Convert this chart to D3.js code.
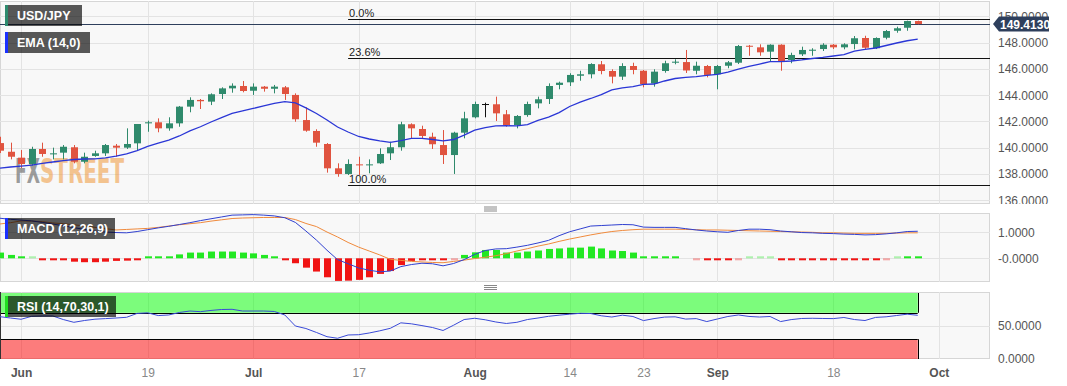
<!DOCTYPE html>
<html>
<head>
<meta charset="utf-8">
<script src="https://cdn.jsdelivr.net/npm/d3@7"></script>
<style>
  body { margin: 0; background: #fff; }
  svg { display: block; font-family: "Liberation Sans", Arial, sans-serif; }
</style>
</head>
<body>
<svg id="chart"></svg>
<script>
var WIDTH = 1067;
var HEIGHT = 386;
var PLOT_W = 990;

// candle index -2 .. 85 (index 0 = Jun 1)
var FIRST_INDEX = -2;

var open = [140.36, 139.70, 139.25, 138.77, 139.91, 139.50, 139.63, 140.04, 138.94, 139.38,
  139.58, 140.16, 140.01, 140.34, 141.86, 141.94, 141.48, 141.86, 143.13, 143.64,
  143.51, 144.09, 144.52, 144.70, 144.34, 144.65, 144.49, 144.60, 144.02, 142.11,
  141.28, 140.29, 138.44, 138.01, 138.74, 138.67, 138.82, 139.58, 140.04, 141.79,
  141.43, 140.84, 140.21, 139.45, 141.15, 142.32, 143.33, 143.31, 142.55, 141.73,
  142.49, 143.38, 143.71, 144.78, 144.98, 145.48, 145.59, 146.35, 145.84, 145.41,
  146.22, 145.86, 144.90, 145.84, 146.47, 146.52, 145.86, 146.22, 145.59, 146.24,
  146.47, 147.76, 147.64, 147.31, 147.84, 146.68, 147.11, 147.38, 147.51, 147.84,
  147.64, 147.89, 148.35, 147.57, 148.37, 148.90, 149.13, 149.64];
var high = [140.84, 140.39, 139.83, 140.08, 140.39, 140.01, 140.21, 140.21, 139.63, 139.78,
  140.29, 140.29, 141.48, 141.81, 142.06, 142.24, 142.32, 143.18, 143.84, 143.71,
  144.14, 144.60, 144.90, 145.08, 144.90, 144.70, 144.78, 144.70, 144.14, 143.08,
  141.41, 140.36, 138.82, 139.12, 139.32, 139.12, 139.96, 140.46, 141.98, 141.86,
  141.68, 141.15, 141.35, 141.22, 142.74, 143.51, 143.43, 143.89, 142.87, 142.49,
  143.51, 143.89, 144.90, 145.03, 145.67, 145.86, 146.43, 146.60, 145.97, 146.43,
  146.47, 145.92, 145.97, 146.62, 146.73, 147.44, 146.55, 146.30, 146.30, 146.60,
  147.82, 147.82, 147.87, 147.87, 147.87, 147.23, 147.69, 147.57, 147.95, 147.89,
  147.95, 148.50, 148.52, 148.40, 148.96, 149.21, 149.67, 149.67];
var low = [139.60, 139.12, 138.46, 138.64, 139.32, 139.12, 139.12, 138.82, 138.82, 139.32,
  139.38, 139.32, 139.91, 139.83, 141.22, 141.18, 141.30, 141.60, 142.70, 142.95,
  143.25, 143.71, 144.19, 144.22, 144.02, 144.27, 144.14, 143.64, 141.98, 141.22,
  140.08, 138.11, 137.80, 137.93, 137.93, 138.06, 138.77, 139.07, 139.78, 140.72,
  140.72, 139.91, 138.77, 138.01, 140.72, 142.24, 142.32, 142.04, 141.60, 141.48,
  142.36, 143.00, 143.33, 144.45, 144.70, 145.10, 145.28, 145.59, 144.90, 145.16,
  145.59, 144.60, 144.65, 145.71, 146.35, 145.69, 145.59, 145.36, 144.45, 146.05,
  146.37, 147.00, 147.00, 146.55, 145.86, 146.43, 146.98, 147.00, 147.36, 147.51,
  147.49, 147.49, 147.49, 147.51, 148.25, 148.75, 148.90, 149.39];
var close = [139.78, 139.32, 138.77, 139.91, 139.53, 139.58, 140.08, 138.94, 139.32, 139.58,
  140.21, 140.01, 140.29, 141.81, 141.94, 141.48, 141.86, 143.13, 143.64, 143.54,
  144.07, 144.52, 144.72, 144.32, 144.65, 144.49, 144.65, 144.09, 142.17, 141.30,
  140.39, 138.44, 138.01, 138.77, 138.67, 138.74, 139.53, 140.04, 141.79, 141.48,
  140.90, 140.27, 139.45, 141.15, 142.24, 143.33, 143.33, 142.62, 141.73, 142.42,
  143.33, 143.69, 144.70, 144.95, 145.54, 145.59, 146.37, 145.84, 145.41, 146.22,
  145.92, 144.85, 145.79, 146.43, 146.55, 145.88, 146.24, 145.54, 146.22, 146.50,
  147.74, 147.69, 147.26, 147.84, 146.55, 147.06, 147.44, 147.46, 147.84, 147.64,
  147.87, 148.33, 147.61, 148.35, 148.88, 149.09, 149.64, 149.413];
var ema = [138.46, 138.54, 138.61, 138.69, 138.81, 138.92, 139.03, 139.11, 139.15, 139.16,
  139.24, 139.36, 139.53, 139.79, 140.10, 140.36, 140.59, 140.90, 141.28, 141.60,
  141.96, 142.30, 142.61, 142.80, 142.99, 143.18, 143.37, 143.51, 143.41, 143.03,
  142.61, 142.11, 141.58, 141.20, 140.86, 140.67, 140.52, 140.42, 140.55, 140.71,
  140.72, 140.63, 140.52, 140.63, 140.97, 141.35, 141.54, 141.66, 141.68, 141.66,
  141.77, 142.08, 142.34, 142.68, 143.14, 143.48, 143.75, 144.05, 144.40, 144.56,
  144.66, 144.83, 144.85, 145.08, 145.27, 145.36, 145.42, 145.50, 145.59, 145.76,
  145.99, 146.20, 146.37, 146.55, 146.56, 146.60, 146.68, 146.79, 146.87, 146.98,
  147.09, 147.36, 147.49, 147.59, 147.78, 147.97, 148.14, 148.27];

var macd = [1.54, 1.50, 1.47, 1.44, 1.38, 1.32, 1.25, 1.18, 1.11, 1.04,
  1.01, 0.99, 0.98, 1.03, 1.10, 1.17, 1.23, 1.30, 1.37, 1.45,
  1.52, 1.59, 1.66, 1.67, 1.68, 1.66, 1.63, 1.56, 1.38, 1.05,
  0.70, 0.31, -0.05, -0.21, -0.37, -0.46, -0.52, -0.49, -0.32, -0.24,
  -0.19, -0.21, -0.29, -0.20, -0.05, 0.15, 0.30, 0.36, 0.37, 0.43,
  0.50, 0.59, 0.69, 0.87, 1.02, 1.13, 1.24, 1.26, 1.28, 1.30,
  1.29, 1.20, 1.19, 1.19, 1.19, 1.14, 1.09, 1.05, 1.02, 1.00,
  1.07, 1.12, 1.12, 1.10, 1.05, 1.02, 0.99, 0.98, 0.96, 0.95,
  0.93, 0.92, 0.90, 0.91, 0.94, 0.98, 1.03, 1.04];
var signal = [1.32, 1.37, 1.44, 1.43, 1.41, 1.36, 1.33, 1.29, 1.24, 1.19,
  1.14, 1.09, 1.11, 1.13, 1.15, 1.19, 1.24, 1.29, 1.33, 1.37,
  1.43, 1.48, 1.53, 1.55, 1.56, 1.57, 1.57, 1.57, 1.49, 1.34,
  1.22, 1.01, 0.82, 0.61, 0.43, 0.28, 0.13, -0.04, -0.08, -0.12,
  -0.14, -0.16, -0.17, -0.12, -0.07, -0.01, 0.04, 0.10, 0.18, 0.28,
  0.37, 0.47, 0.55, 0.65, 0.74, 0.82, 0.90, 0.97, 1.03, 1.07,
  1.10, 1.12, 1.12, 1.12, 1.12, 1.11, 1.10, 1.09, 1.09, 1.08,
  1.07, 1.06, 1.05, 1.04, 1.03, 1.02, 1.01, 1.00, 0.98, 0.98,
  0.97, 0.96, 0.96, 0.96, 0.96, 0.97, 0.98, 0.98];
var hist = [0.22, 0.13, 0.03, 0.01, -0.03, -0.04, -0.05, -0.13, -0.15, -0.15,
  -0.13, -0.10, -0.09, -0.02, 0.02, 0.04, 0.05, 0.15, 0.22, 0.22,
  0.26, 0.26, 0.26, 0.22, 0.19, 0.13, 0.05, -0.02, -0.19, -0.36,
  -0.51, -0.73, -0.87, -0.86, -0.83, -0.73, -0.60, -0.49, -0.26, -0.10,
  -0.05, -0.04, -0.04, -0.01, 0.13, 0.23, 0.32, 0.32, 0.22, 0.22,
  0.26, 0.30, 0.36, 0.38, 0.41, 0.41, 0.45, 0.38, 0.30, 0.28,
  0.22, 0.04, 0.03, 0.03, 0.02, 0.00, -0.01, -0.05, -0.05, -0.05,
  -0.01, 0.01, 0.01, 0.01, -0.03, -0.03, -0.03, -0.03, -0.03, -0.03,
  -0.03, -0.03, -0.03, -0.03, -0.01, 0.01, 0.03, 0.03];
var rsi = [64.1, 62.1, 60.2, 64.7, 65.2, 65.2, 59.8, 55.6, 58.3, 60.3,
  61.2, 62.1, 63.2, 69.1, 70.0, 65.8, 66.7, 70.5, 72.7, 71.7,
  73.6, 75.0, 75.3, 72.7, 72.7, 72.7, 72.0, 66.7, 50.0, 46.2,
  40.2, 33.8, 31.4, 36.4, 36.8, 39.4, 42.7, 46.5, 54.8, 53.3,
  50.6, 47.7, 43.2, 51.2, 59.8, 61.7, 59.4, 56.1, 53.8, 55.6,
  59.8, 62.1, 64.7, 66.4, 67.9, 69.2, 68.9, 65.5, 63.6, 66.4,
  64.4, 58.2, 61.2, 63.5, 63.9, 60.5, 61.2, 56.7, 60.6, 64.4,
  66.7, 64.5, 63.6, 64.4, 56.7, 59.7, 61.4, 61.7, 61.4, 61.2,
  62.9, 59.8, 58.3, 63.0, 63.9, 65.9, 67.9, 66.2];

var tickIndex = [0, 12, 22, 32, 43, 52, 59, 66, 77, 87];
var tickText = ["Jun", "19", "Jul", "17", "Aug", "14", "23", "Sep", "18", "Oct"];
var priceTicks = [136, 138, 140, 142, 144, 146, 148, 150];
var macdTicks = [1, 0];
var macdTickText = ["1.0000", "-0.0000"];
var rsiTicks = [50, 0];
var rsiBands = [{ from: 70, to: 100, color: "rgba(0,255,0,0.5)" }, { from: 0, to: 30, color: "rgba(255,0,0,0.5)" }];
var fibHigh = 149.77;
var fibLow = 137.17;
var fibLevels = [0, 0.236, 1];
var fibStartIndex = 31;
var lastPrice = 149.413;

var data = close.map(function (c, k) {
  return { i: k + FIRST_INDEX, o: open[k], h: high[k], l: low[k], c: c,
    ema: ema[k], macd: macd[k], signal: signal[k], hist: hist[k], rsi: rsi[k] };
});
var lastIndex = data[data.length - 1].i;

var PANELS = {
  main: { top: 1, bottom: 204 },
  macd: { top: 213, bottom: 282 },
  rsi: { top: 292, bottom: 359 }
};

var x = d3.scaleLinear().domain([-2, 91.85]).range([0, PLOT_W]);
var yMain = d3.scaleLinear().domain([136, 150]).range([200.4, 16.3]);
var yMacd = d3.scaleLinear().domain([0, 1]).range([258.3, 232.3]);
var yRsi = d3.scaleLinear().domain([0, 100]).range([359, 293]);

var svg = d3.select("#chart").attr("width", WIDTH).attr("height", HEIGHT);
var defs = svg.append("defs");

function makePanel(name, p) {
  defs.append("clipPath").attr("id", "clip-" + name)
    .append("rect").attr("x", 0).attr("y", p.top).attr("width", PLOT_W).attr("height", p.bottom - p.top);
  svg.append("rect").attr("x", 0.5).attr("y", p.top + 0.5)
    .attr("width", PLOT_W - 1).attr("height", p.bottom - p.top - 1)
    .attr("fill", "#f8f8f8").attr("stroke", "#d6d6d6");
  var g = svg.append("g").attr("clip-path", "url(#clip-" + name + ")");
  g.selectAll(".vgrid").data(tickIndex).enter().append("line")
    .attr("x1", function (d) { return Math.round(x(d)) + 0.5; })
    .attr("x2", function (d) { return Math.round(x(d)) + 0.5; })
    .attr("y1", p.top).attr("y2", p.bottom)
    .attr("stroke", "#e3e3e3");
  return g;
}

// ---- main panel ----
var gMain = makePanel("main", PANELS.main);
gMain.selectAll(".hgrid").data(priceTicks).enter().append("line")
  .attr("x1", 0).attr("x2", PLOT_W)
  .attr("y1", function (d) { return Math.round(yMain(d)) + 0.5; })
  .attr("y2", function (d) { return Math.round(yMain(d)) + 0.5; })
  .attr("stroke", "#e3e3e3");

// watermark
var wm = gMain.append("g").attr("font-family", "'Liberation Sans Narrow', 'DejaVu Sans Condensed', sans-serif")
  .attr("font-weight", "bold").attr("font-size", 34);
wm.append("text").attr("x", 15).attr("y", 183).attr("textLength", 25).attr("lengthAdjust", "spacingAndGlyphs")
  .attr("fill", "#7d7d7d").attr("opacity", 0.75).text("FX");
wm.append("text").attr("x", 40).attr("y", 183).attr("textLength", 84).attr("lengthAdjust", "spacingAndGlyphs")
  .attr("fill", "#f0a04a").attr("opacity", 0.6).text("STREET");

// fibonacci levels
var fib = fibLevels.map(function (l) { return { level: l, price: fibHigh - l * (fibHigh - fibLow) }; });
gMain.selectAll(".fib").data(fib).enter().append("line")
  .attr("x1", x(fibStartIndex)).attr("x2", PLOT_W)
  .attr("y1", function (d) { return Math.round(yMain(d.price)) + 0.5; })
  .attr("y2", function (d) { return Math.round(yMain(d.price)) + 0.5; })
  .attr("stroke", "#111");
gMain.selectAll(".fibtxt").data(fib).enter().append("text")
  .attr("x", x(fibStartIndex) + 1)
  .attr("y", function (d) { return yMain(d.price) - 2.5; })
  .attr("font-size", 11).attr("fill", "#222")
  .text(function (d) { return (d.level * 100).toFixed(1) + "%"; });

// last price line
gMain.append("line").attr("x1", 0).attr("x2", PLOT_W)
  .attr("y1", Math.round(yMain(lastPrice)) + 0.5).attr("y2", Math.round(yMain(lastPrice)) + 0.5)
  .attr("stroke", "#2e3f5c");

function candleColor(d) {
  if (d.c > d.o) return "#2f8a6c";
  if (d.c < d.o) return "#e0533f";
  return "#111";
}

var candle = gMain.selectAll(".candle").data(data).enter().append("g").attr("class", "candle");
candle.append("line")
  .attr("x1", function (d) { return Math.round(x(d.i)) + 0.5; })
  .attr("x2", function (d) { return Math.round(x(d.i)) + 0.5; })
  .attr("y1", function (d) { return yMain(d.h); })
  .attr("y2", function (d) { return yMain(d.l); })
  .attr("stroke", candleColor);
candle.append("rect")
  .attr("x", function (d) { return Math.round(x(d.i)) - 3; })
  .attr("width", 7)
  .attr("y", function (d) { return yMain(Math.max(d.o, d.c)); })
  .attr("height", function (d) { return Math.max(1, yMain(Math.min(d.o, d.c)) - yMain(Math.max(d.o, d.c))); })
  .attr("fill", candleColor);

gMain.append("path").datum(data)
  .attr("fill", "none").attr("stroke", "#2a36d6").attr("stroke-width", 1.3)
  .attr("d", d3.line().x(function (d) { return x(d.i); }).y(function (d) { return yMain(d.ema); }));

// ---- MACD panel ----
var gMacd = makePanel("macd", PANELS.macd);
gMacd.selectAll(".hgrid").data(macdTicks).enter().append("line")
  .attr("x1", 0).attr("x2", PLOT_W)
  .attr("y1", function (d) { return Math.round(yMacd(d)) + 0.5; })
  .attr("y2", function (d) { return Math.round(yMacd(d)) + 0.5; })
  .attr("stroke", "#e3e3e3");
gMacd.selectAll(".bar").data(data).enter().append("rect")
  .attr("x", function (d) { return Math.round(x(d.i)) - 3; })
  .attr("width", 7)
  .attr("y", function (d) {
    var h = Math.max(2, Math.abs(yMacd(d.hist) - yMacd(0)));
    return d.hist >= 0 ? yMacd(0) - h : yMacd(0);
  })
  .attr("height", function (d) { return d.hist === 0 ? 0 : Math.max(2, Math.abs(yMacd(d.hist) - yMacd(0))); })
  .attr("fill", function (d) { return d.hist >= 0 ? "#22e822" : "#f01414"; })
  .attr("opacity", function (d) { return Math.abs(d.hist) < 0.015 ? 0.35 : 1; });
gMacd.append("path").datum(data)
  .attr("fill", "none").attr("stroke", "#f08a3c").attr("stroke-width", 1)
  .attr("d", d3.line().x(function (d) { return x(d.i); }).y(function (d) { return yMacd(d.signal); }));
gMacd.append("path").datum(data)
  .attr("fill", "none").attr("stroke", "#3040d0").attr("stroke-width", 1)
  .attr("d", d3.line().x(function (d) { return x(d.i); }).y(function (d) { return yMacd(d.macd); }));

// ---- RSI panel ----
var gRsi = makePanel("rsi", PANELS.rsi);
gRsi.selectAll(".hgrid").data(rsiTicks).enter().append("line")
  .attr("x1", 0).attr("x2", PLOT_W)
  .attr("y1", function (d) { return Math.round(yRsi(d)) + 0.5; })
  .attr("y2", function (d) { return Math.round(yRsi(d)) + 0.5; })
  .attr("stroke", "#e3e3e3");
gRsi.selectAll(".band").data(rsiBands).enter().append("rect")
  .attr("x", 0).attr("width", x(lastIndex))
  .attr("y", function (d) { return yRsi(d.to); })
  .attr("height", function (d) { return yRsi(d.from) - yRsi(d.to); })
  .attr("fill", function (d) { return d.color; });
[70, 30].forEach(function (v) {
  gRsi.append("line").attr("x1", 0).attr("x2", x(lastIndex))
    .attr("y1", Math.round(yRsi(v)) + 0.5).attr("y2", Math.round(yRsi(v)) + 0.5).attr("stroke", "#000");
});
rsiBands.forEach(function (b) {
  gRsi.append("line").attr("x1", Math.round(x(lastIndex)) + 0.5).attr("x2", Math.round(x(lastIndex)) + 0.5)
    .attr("y1", yRsi(b.to)).attr("y2", yRsi(b.from)).attr("stroke", "#000");
});
gRsi.append("line").attr("x1", 0.5).attr("x2", 0.5).attr("y1", PANELS.rsi.top).attr("y2", PANELS.rsi.bottom).attr("stroke", "#333");
gRsi.append("path").datum(data)
  .attr("fill", "none").attr("stroke", "#3a4ad8").attr("stroke-width", 1)
  .attr("d", d3.line().x(function (d) { return x(d.i); }).y(function (d) { return yRsi(d.rsi); }));

// ---- labels in panels ----
function badge(px, py, w, txt, accent) {
  svg.append("rect").attr("x", px).attr("y", py).attr("width", w).attr("height", 21).attr("fill", "rgba(0,0,0,0.65)");
  svg.append("rect").attr("x", px).attr("y", py).attr("width", 3).attr("height", 21).attr("fill", accent);
  svg.append("text").attr("x", px + 12).attr("y", py + 15).attr("fill", "#fff")
    .attr("font-size", 12.5).attr("font-weight", "bold").text(txt);
}
badge(5, 5, 77, "USD/JPY", "#2e8b6e");
badge(5, 32, 85, "EMA (14,0)", "#1a30ff");
badge(5, 218, 110, "MACD (12,26,9)", "#1a30ff");
badge(5, 296, 111, "RSI (14,70,30,1)", "#22dd22");

// ---- axes ----
var axisRight = svg.append("g").attr("clip-path", "url(#clip-axis)");
defs.append("clipPath").attr("id", "clip-axis").append("rect")
  .attr("x", PLOT_W).attr("y", 0).attr("width", WIDTH - PLOT_W).attr("height", PANELS.main.bottom);
axisRight.append("g").attr("transform", "translate(" + PLOT_W + ",0)")
  .call(d3.axisRight(yMain).tickValues(priceTicks).tickFormat(d3.format(".4f")).tickSize(0).tickPadding(8));
svg.append("g").attr("transform", "translate(" + PLOT_W + ",0)")
  .call(d3.axisRight(yMacd).tickValues(macdTicks).tickFormat(function (d, k) { return macdTickText[k]; }).tickSize(0).tickPadding(8));
svg.append("g").attr("transform", "translate(" + PLOT_W + ",0)")
  .call(d3.axisRight(yRsi).tickValues(rsiTicks).tickFormat(d3.format(".4f")).tickSize(0).tickPadding(8));
svg.append("g").attr("transform", "translate(0,366)")
  .call(d3.axisBottom(x).tickValues(tickIndex).tickFormat(function (d, k) { return tickText[k]; }).tickSize(0).tickPadding(2));

svg.selectAll(".domain").remove();
svg.selectAll(".tick text").attr("font-size", 12).attr("font-family", "'Liberation Sans', Arial, sans-serif").attr("fill", "#555");
svg.selectAll(".tick text").filter(function () { return /^[A-Z]/.test(this.textContent); })
  .attr("font-weight", "bold").attr("fill", "#555");
svg.selectAll(".tick text").filter(function () { return /^\d{2}$/.test(this.textContent); })
  .attr("fill", "#888");

// last price tag
var ty = yMain(lastPrice);
svg.append("path")
  .attr("d", "M" + (PLOT_W + 3) + "," + ty + " L" + (PLOT_W + 9) + "," + (ty - 7.5) + " H1049 V" + (ty + 7.5) + " H" + (PLOT_W + 9) + " Z")
  .attr("fill", "#2e3f5c");
svg.append("text").attr("x", PLOT_W + 10).attr("y", ty + 4.5).attr("fill", "#fff")
  .attr("font-size", 12).attr("font-weight", "bold").text(lastPrice.toFixed(4));

// panel dividers
[208.5, 287].forEach(function (yy) {
  [-2, 0, 2].forEach(function (o) {
    svg.append("line").attr("x1", 484).attr("x2", 497).attr("y1", yy + o + 0.5).attr("y2", yy + o + 0.5).attr("stroke", "#888");
  });
});
</script>
</body>
</html>
